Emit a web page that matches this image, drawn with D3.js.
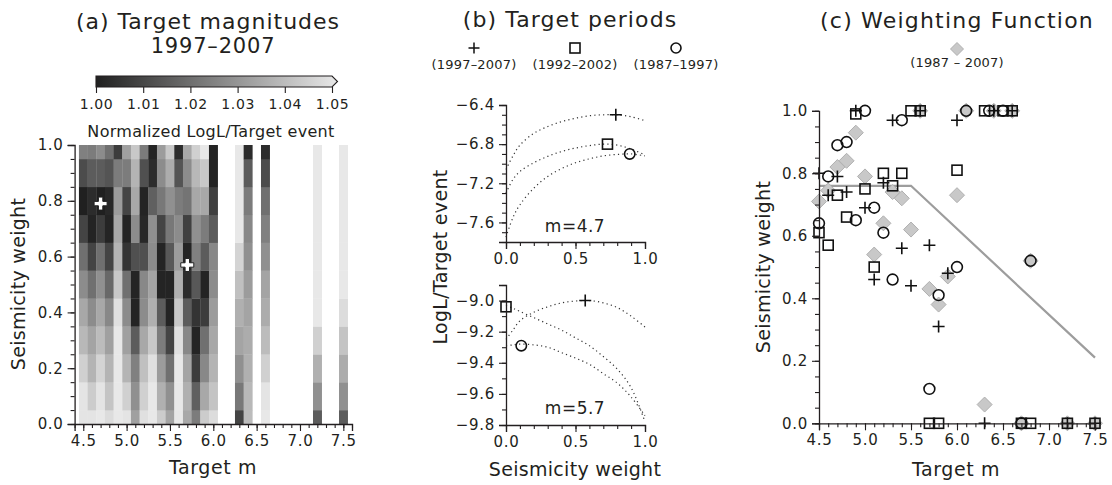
<!DOCTYPE html>
<html><head><meta charset="utf-8">
<script src="https://cdn.jsdelivr.net/npm/d3@7"></script>
<style>
body{margin:0;background:#fff}
svg{display:block}
text{font-family:"DejaVu Sans",sans-serif;fill:#231f20}
</style>
</head><body>
<svg id="fig" width="1112" height="485"></svg>
<script>
// ---------- (a) normalized likelihood grid, 1997-2007 targets ----------
const heatMags = [4.5,4.6,4.7,4.8,4.9,5.0,5.1,5.2,5.3,5.4,5.5,5.6,5.7,5.8,5.9,6.0,6.3,6.4,6.6,7.2,7.5];
const heatWeights = [0,0.1,0.2,0.3,0.4,0.5,0.6,0.7,0.8,0.9,1.0];
// one row per target magnitude, values for weights 0.0 ... 1.0
const heatValues = [
  [1.049,1.049,1.044,1.038,1.034,1.027,1.020,1.009,1.000,1.011,1.024],
  [1.049,1.043,1.037,1.033,1.027,1.020,1.009,1.001,1.003,1.015,1.023],
  [1.050,1.049,1.045,1.039,1.034,1.028,1.020,1.007,1.000,1.015,1.027],
  [1.047,1.041,1.037,1.032,1.026,1.018,1.009,1.001,1.002,1.013,1.020],
  [1.050,1.050,1.050,1.050,1.048,1.042,1.037,1.034,1.031,1.023,1.007],
  [1.049,1.044,1.037,1.032,1.027,1.020,1.005,1.001,1.009,1.023,1.032],
  [1.032,1.028,1.024,1.015,1.001,1.001,1.012,1.027,1.034,1.037,1.042],
  [1.048,1.044,1.040,1.034,1.027,1.026,1.012,1.002,1.001,1.012,1.023],
  [1.050,1.050,1.048,1.042,1.036,1.033,1.027,1.028,1.016,1.003,1.001],
  [1.043,1.036,1.031,1.023,1.015,1.001,1.001,1.009,1.022,1.027,1.031],
  [1.033,1.028,1.020,1.009,1.001,1.001,1.014,1.022,1.028,1.035,1.042],
  [1.050,1.050,1.050,1.048,1.042,1.036,1.031,1.027,1.023,1.013,1.003],
  [1.034,1.036,1.033,1.026,1.015,1.003,1.001,1.008,1.021,1.027,1.034],
  [1.023,1.016,1.007,1.001,1.005,1.014,1.024,1.028,1.034,1.038,1.044],
  [1.043,1.034,1.026,1.020,1.007,1.001,1.015,1.023,1.034,1.042,1.050],
  [1.047,1.041,1.037,1.034,1.031,1.027,1.026,1.015,1.008,1.001,1.001],
  [1.009,1.022,1.028,1.033,1.036,1.040,1.045,1.050,1.050,1.050,1.050],
  [1.039,1.038,1.036,1.035,1.033,1.031,1.028,1.026,1.023,1.015,1.003],
  [1.050,1.049,1.044,1.039,1.035,1.033,1.028,1.024,1.020,1.011,1.003],
  [1.015,1.028,1.036,1.044,1.050,1.050,1.050,1.050,1.050,1.050,1.050],
  [1.015,1.028,1.035,1.041,1.047,1.050,1.050,1.050,1.050,1.050,1.050]
];
const heatBestM = [4.7, 5.7];
const heatBestW = [0.79, 0.57];
const colorTicks = [1.00,1.01,1.02,1.03,1.04,1.05];

// ---------- (b) LogL per target event against seismicity weight ----------
const bWeights = [0,0.05,0.1,0.2,0.3,0.4,0.5,0.6,0.7,0.8,0.9,1.0];
const m47Plus   = [-7.06,-6.92,-6.81,-6.69,-6.62,-6.57,-6.535,-6.51,-6.50,-6.50,-6.52,-6.56];
const m47Square = [-7.30,-7.16,-7.08,-6.99,-6.925,-6.875,-6.84,-6.815,-6.80,-6.81,-6.85,-6.91];
const m47Circle = [-7.75,-7.55,-7.42,-7.25,-7.13,-7.05,-6.99,-6.95,-6.92,-6.905,-6.90,-6.92];
const m57Plus   = [-9.25,-9.19,-9.13,-9.075,-9.04,-9.015,-9.003,-9.0,-9.015,-9.045,-9.10,-9.17];
const m57Square = [-9.03,-9.05,-9.07,-9.11,-9.15,-9.19,-9.24,-9.29,-9.36,-9.44,-9.56,-9.78];
const m57Circle = [-9.29,-9.285,-9.28,-9.285,-9.30,-9.335,-9.37,-9.41,-9.47,-9.53,-9.62,-9.74];
const m47Best = {plus:[0.79,-6.50], square:[0.73,-6.80], circle:[0.89,-6.90]};
const m57Best = {plus:[0.57,-9.00], square:[0.0,-9.04], circle:[0.11,-9.29]};
const periodLabels = ["(1997\u20132007)","(1992\u20132002)","(1987\u20131997)"];

// ---------- (c) best weights per target magnitude ----------
const plusM = [4.5,4.6,4.7,4.8,4.9,5.0,5.1,5.2,5.3,5.4,5.5,5.6,5.7,5.8,5.9,6.0,6.3,6.4,6.6,7.2,7.5];
const plusW = [0.80,0.73,0.79,0.74,1.00,0.69,0.46,0.77,0.97,0.56,0.44,1.00,0.57,0.31,0.48,0.97,0.00,1.00,1.00,0.00,0.00];
const squareM = [4.5,4.6,4.7,4.8,4.9,5.0,5.1,5.2,5.3,5.4,5.5,5.6,5.7,5.8,6.0,6.3,6.5,6.6,6.7,6.8,7.2,7.5];
const squareW = [0.61,0.57,0.73,0.66,0.99,0.75,0.50,0.80,0.76,0.80,1.00,1.00,0.00,0.00,0.81,1.00,1.00,1.00,0.00,0.00,0.00,0.00];
const circleM = [4.5,4.6,4.7,4.8,4.9,5.0,5.1,5.2,5.3,5.4,5.7,5.8,6.0,6.1,6.35,6.5,6.7,6.8];
const circleW = [0.64,0.79,0.89,0.90,0.65,1.00,0.69,0.61,0.46,0.97,0.11,0.41,0.50,1.00,1.00,1.00,0.00,0.52];
const diamondM = [4.5,4.6,4.7,4.8,4.9,5.0,5.1,5.2,5.3,5.4,5.5,5.6,5.7,5.8,5.9,6.0,6.1,6.3,6.4,6.6,6.7,6.8,7.2,7.5];
const diamondW = [0.71,0.745,0.82,0.84,0.93,0.79,0.54,0.64,0.74,0.72,0.62,1.00,0.43,0.38,0.47,0.73,1.00,0.06,1.00,1.00,0.00,0.52,0.00,0.00];
const weightFnM = [4.5,5.5,7.5];
const weightFnW = [0.76,0.76,0.21];

const svg = d3.select("#fig");
const INK = "#231f20";
const range = (a,b,s) => d3.range(Math.round(a/s), Math.round(b/s)+1).map(i => +(i*s).toFixed(4));

// axis with labelled majors and shorter unlabelled minors, ticks pointing outward
function axis(g, scale, orient, majors, minors, fmt, size) {
  const gen = orient === "left" ? d3.axisLeft : d3.axisBottom;
  const gm = g.append("g").call(gen(scale).tickValues(minors).tickSize(4).tickFormat(""));
  const gM = g.append("g").call(gen(scale).tickValues(majors).tickSize(7).tickPadding(4).tickFormat(fmt));
  [gm, gM].forEach(a => {
    a.selectAll("line").attr("stroke", INK).attr("stroke-width", 1.1);
    a.select(".domain").attr("stroke", INK).attr("stroke-width", 1.3);
  });
  gm.select(".domain").remove();
  gM.selectAll("text").attr("font-size", size || 15).attr("fill", INK)
    .attr("letter-spacing", 0.7)
    .style("font-family", "'DejaVu Sans',sans-serif");
  return g;
}

function plusPath(g, x, y, r, sw) {
  g.append("path").attr("d", `M${x-r},${y}H${x+r}M${x},${y-r}V${y+r}`)
    .attr("stroke", "#111").attr("stroke-width", sw || 1.6).attr("fill", "none");
}
function squareMark(g, x, y, h) {
  g.append("rect").attr("x", x-h).attr("y", y-h).attr("width", 2*h).attr("height", 2*h)
    .attr("fill", "none").attr("stroke", "#111").attr("stroke-width", 1.6);
}
function circleMark(g, x, y, r) {
  g.append("circle").attr("cx", x).attr("cy", y).attr("r", r)
    .attr("fill", "none").attr("stroke", "#111").attr("stroke-width", 1.6);
}
function diamondMark(g, x, y, r) {
  g.append("path").attr("d", `M${x},${y-r}L${x+r},${y}L${x},${y+r}L${x-r},${y}Z`)
    .attr("fill", "#c8c8c8").attr("stroke", "#b0b0b0").attr("stroke-width", 1);
}
function title(g, x, y, t, size, ls) {
  return g.append("text").attr("x", x).attr("y", y).attr("text-anchor", "middle")
    .attr("font-size", size).attr("letter-spacing", ls || 0).text(t);
}

// ================= panel (a) =================
{
  const x = d3.scaleLinear().domain([4.4, 7.6]).range([74.6, 352]);
  const y = d3.scaleLinear().domain([0, 1]).range([424, 145]);
  const gray = d3.scaleLinear().domain([1.00, 1.05]).range(["#202020", "#e8e8e8"]).clamp(true);
  const g = svg.append("g");

  const cells = [];
  heatMags.forEach((m, i) => heatWeights.forEach((w, j) => cells.push({m, w, v: heatValues[i][j]})));
  g.selectAll("rect.cell").data(cells).join("rect").attr("class", "cell")
    .attr("x", d => x(d.m - 0.05))
    .attr("width", d => x(d.m + 0.05) - x(d.m - 0.05) + 0.3)
    .attr("y", d => y(Math.min(1, d.w + 0.05)))
    .attr("height", d => y(Math.max(0, d.w - 0.05)) - y(Math.min(1, d.w + 0.05)) + 0.3)
    .attr("fill", d => gray(d.v));

  heatBestM.forEach((m, i) => {
    const cx = x(m), cy = y(heatBestW[i]), a = 6.5, b = 2.2;
    g.append("path")
      .attr("d", `M${cx-b},${cy-a}H${cx+b}V${cy-b}H${cx+a}V${cy+b}H${cx+b}V${cy+a}H${cx-b}V${cy+b}H${cx-a}V${cy-b}H${cx-b}Z`)
      .attr("fill", "#fff").attr("stroke", "#222").attr("stroke-width", 1);
  });

  axis(g.append("g").attr("transform", "translate(74.6,0)"), y, "left",
       range(0, 1, 0.2), range(0, 1, 0.05), d3.format(".1f"));
  axis(g.append("g").attr("transform", "translate(0,424)"), x, "bottom",
       range(4.5, 7.5, 0.5), range(4.4, 7.6, 0.1), d3.format(".1f"));

  title(g, 213, 474, "Target m", 19, 0.6);
  g.append("text").attr("transform", "translate(25,284) rotate(-90)").attr("text-anchor", "middle")
    .attr("font-size", 19).attr("letter-spacing", 0.3).text("Seismicity weight");

  title(g, 208, 29, "(a) Target magnitudes", 22, 1);
  title(g, 213, 53, "1997\u20132007", 21, 0.8);

  // colour bar
  const cx = d3.scaleLinear().domain([1.00, 1.05]).range([96, 332]);
  const defs = svg.append("defs");
  const grad = defs.append("linearGradient").attr("id", "gbar");
  grad.append("stop").attr("offset", "0%").attr("stop-color", gray(1.00));
  grad.append("stop").attr("offset", "100%").attr("stop-color", gray(1.05));
  g.append("path").attr("d", `M96,76H332L337.5,81.5L332,87H96Z`).attr("fill", "url(#gbar)")
    .attr("stroke", INK).attr("stroke-width", 1.1);
  const cb = g.append("g").attr("transform", "translate(0,87)")
    .call(d3.axisBottom(cx).tickValues(colorTicks).tickSize(6).tickPadding(6).tickFormat(d3.format(".2f")));
  cb.select(".domain").remove();
  cb.selectAll("line").attr("stroke", INK).attr("stroke-width", 1.1);
  cb.selectAll("text").attr("font-size", 14).attr("fill", INK).attr("letter-spacing", 0.6)
    .style("font-family", "'DejaVu Sans',sans-serif");
  title(g, 211, 137, "Normalized LogL/Target event", 16, 0.3);
}

// ================= panel (b) =================
{
  const g = svg.append("g");
  const x = d3.scaleLinear().domain([0, 1]).range([506, 645]);
  const yTop = d3.scaleLinear().domain([-7.8, -6.4]).range([242, 105]);
  const yBot = d3.scaleLinear().domain([-9.8, -8.9]).range([425, 285]);
  const dotted = (sel) => sel.attr("fill", "none").attr("stroke", "#333")
    .attr("stroke-width", 1.2).attr("stroke-dasharray", "1.2,3.2");

  [[yTop, m47Plus, m47Square, m47Circle, m47Best, 242, range(-7.6, -6.4, 0.4), range(-7.8, -6.4, 0.1), "m=4.7", 232],
   [yBot, m57Plus, m57Square, m57Circle, m57Best, 425, range(-9.8, -9.0, 0.2), range(-9.8, -8.9, 0.1), "m=5.7", 414]]
  .forEach(([y, cp, cs, cc, best, base, majors, minors, lab, ly]) => {
    const line = d3.line().x((d, i) => x(bWeights[i])).y(d => y(d)).curve(d3.curveCatmullRom);
    [cp, cs, cc].forEach(c => g.append("path").attr("d", line(c)).call(dotted));
    plusPath(g, x(best.plus[0]), y(best.plus[1]), 6);
    squareMark(g, x(best.square[0]), y(best.square[1]), 5);
    circleMark(g, x(best.circle[0]), y(best.circle[1]), 5.2);
    axis(g.append("g").attr("transform", "translate(506,0)"), y, "left", majors, minors,
         d => d3.format(".1f")(d));
    axis(g.append("g").attr("transform", `translate(0,${base})`), x, "bottom",
         [0, 0.5, 1], range(0, 1, 0.1), d3.format(".1f"));
    title(g, 575, ly, lab, 17, 0.5);
  });

  g.append("text").attr("transform", "translate(447,257) rotate(-90)").attr("text-anchor", "middle")
    .attr("font-size", 19).attr("letter-spacing", 0.3).text("LogL/Target event");
  title(g, 575, 476, "Seismicity weight", 19, 0.3);
  title(g, 570, 27, "(b) Target periods", 22, 1.1);

  const lx = [474, 575, 676];
  plusPath(g, lx[0], 48, 5.5, 1.5);
  squareMark(g, lx[1], 48, 5);
  circleMark(g, lx[2], 48, 5);
  periodLabels.forEach((t, i) => title(g, lx[i], 69, t, 13, 0.2));
}

// ================= panel (c) =================
{
  const g = svg.append("g");
  const x = d3.scaleLinear().domain([4.5, 7.5]).range([819, 1095]);
  const y = d3.scaleLinear().domain([0, 1]).range([423.3, 110.8]);

  g.append("path").attr("d", d3.line().x((d, i) => x(weightFnM[i])).y(d => y(d))(weightFnW))
    .attr("fill", "none").attr("stroke", "#9d9d9d").attr("stroke-width", 2.2);

  diamondM.forEach((m, i) => diamondMark(g, x(m), y(diamondW[i]), 7.5));
  squareM.forEach((m, i) => squareMark(g, x(m), y(squareW[i]), 5));
  circleM.forEach((m, i) => circleMark(g, x(m), y(circleW[i]), 5.4));
  plusM.forEach((m, i) => plusPath(g, x(m), y(plusW[i]), 6));

  axis(g.append("g").attr("transform", "translate(819,0)"), y, "left",
       range(0, 1, 0.2), range(0, 1, 0.05), d3.format(".1f"));
  axis(g.append("g").attr("transform", "translate(0,423.3)"), x, "bottom",
       range(4.5, 7.5, 0.5), range(4.5, 7.5, 0.1), d3.format(".1f"));

  title(g, 956, 476, "Target m", 19, 0.6);
  g.append("text").attr("transform", "translate(770,267) rotate(-90)").attr("text-anchor", "middle")
    .attr("font-size", 19).attr("letter-spacing", 0.3).text("Seismicity weight");
  title(g, 957, 28, "(c) Weighting Function", 22, 1.2);
  diamondMark(g, 957, 49, 6.5);
  title(g, 957, 67, "(1987 \u2013 2007)", 13, 0.2);
}
</script>
</body></html>
